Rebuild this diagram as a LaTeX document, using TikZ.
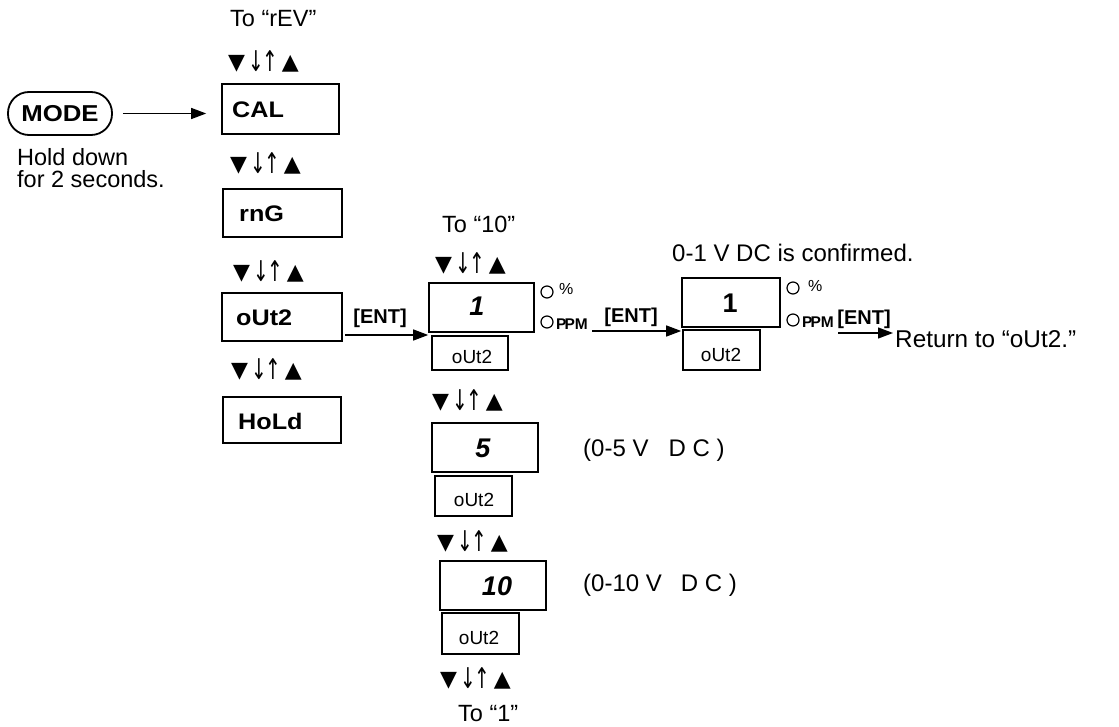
\documentclass[tikz,border=0pt]{standalone}
\usepackage{fontspec}
\usepackage{graphicx}
\setmainfont{Liberation Sans}
\newfontfamily\symfont{DejaVu Sans}
\usetikzlibrary{arrows.meta,calc}
\newcommand\sbf[1]{\scalebox{1.12}[1]{\bfseries #1}}
\newcommand\updn{▼\kern3pt\raisebox{-2pt}{\scalebox{0.85}[1.3]{↓}}\kern-1pt\raisebox{-2pt}{\scalebox{0.85}[1.3]{↑}}\kern3.5pt▲}
\begin{document}
\begin{tikzpicture}[x=1pt,y=-1pt,
  box/.style={draw,line width=1.6pt,inner sep=0pt},
  arr/.style={line width=1.3pt,-{Triangle[length=15pt,width=11pt]}},
  lbl/.style={inner sep=0pt,anchor=west,font=\fontsize{23.5}{22}\selectfont},
  sym/.style={inner sep=0pt,anchor=west,font=\symfont\fontsize{22}{24}\selectfont},
  btxt/.style={inner sep=0pt,anchor=west,font=\fontsize{22.5}{24}\selectfont},
  stxt/.style={inner sep=0pt,font=\fontsize{19}{22}\selectfont},
  dig/.style={inner sep=0pt,font=\fontsize{27}{28}\selectfont\bfseries\itshape},
  ent/.style={inner sep=0pt,font=\fontsize{20}{22}\selectfont\bfseries},
  led/.style={draw,circle,line width=1.2pt,minimum size=12pt,inner sep=0pt},
  pct/.style={inner sep=0pt,anchor=west,font=\fontsize{16}{16}\selectfont},
  ppm/.style={inner sep=0pt,anchor=west,font=\fontsize{15.5}{16}\selectfont\bfseries}]
\useasboundingbox (0,0) rectangle (1119,727);

% left column
\node[lbl] (torev) at (230,18.5) {To “rEV”};
\node[sym] (s0) at (228,61) {\updn};
\node[box,minimum width=117pt,minimum height=50pt] (cal) at (280.5,109) {};
\node[btxt] at (232,110) {\sbf{CAL}};
\node[sym] (s1r) at (230,163) {\updn};
\node[box,minimum width=119pt,minimum height=48pt] (rng) at (282.5,213) {};
\node[btxt] at (239,214) {\sbf{rnG}};
\node[sym] (s2r) at (233,271) {\updn};
\node[box,minimum width=120pt,minimum height=48pt] (out) at (282,317) {};
\node[btxt] at (236,318) {\sbf{oUt2}};
\node[sym] (s3r) at (231,369) {\updn};
\node[box,minimum width=118pt,minimum height=46pt] (hold) at (282,420) {};
\node[btxt] at (238,421) {\sbf{HoLd}};

% MODE
\node[draw,line width=1.8pt,rounded corners=21pt,minimum width=104pt,minimum height=43pt,inner sep=0pt,font=\fontsize{23}{24}\selectfont] (mode) at (60,113.5) {\sbf{MODE}};
\node[lbl,align=left] (hold2) at (17,168) {Hold down\\for 2 seconds.};
\draw[arr] ([xshift=10pt]mode.east) -- ([xshift=-15pt]mode.east -| cal.west);

% middle column
\node[lbl] (to10) at (442,224) {To “10”};
\node[sym] (m0) at (435,263) {\updn};
\node[box,minimum width=105pt,minimum height=49pt] (b1) at (481.5,307.5) {};
\node[dig] at (477,306) {1};
\node[box,minimum width=76pt,minimum height=34pt] (s1) at (470,353) {};
\node[stxt] at (472,357) {oUt2};
\node[led] (c1a) at (547,292) {};
\node[led] (c1b) at (547,322) {};
\node[pct] at (559,289) {\%};
\node[ppm] (p1) at (556,324) {P\kern-2ptPM};

\node[sym] (m1) at (432,400) {\updn};
\node[box,minimum width=106pt,minimum height=49pt] (b5) at (485,447.5) {};
\node[dig] at (483,448) {5};
\node[box,minimum width=77pt,minimum height=40pt] (s5) at (473.5,496) {};
\node[stxt] at (474,500) {oUt2};
\node[lbl,font=\fontsize{24}{24}\selectfont] at (583,450) {(0-5 V\hspace{20pt}D C )};

\node[sym] (m2) at (437,541) {\updn};
\node[box,minimum width=106pt,minimum height=49pt] (b10) at (493,585.5) {};
\node[dig] at (497,586) {10};
\node[box,minimum width=77pt,minimum height=41pt] (s10) at (480.5,633.5) {};
\node[stxt] at (479,638) {oUt2};
\node[lbl,font=\fontsize{24}{24}\selectfont] at (583,585) {(0-10 V\hspace{19pt}D C )};
\node[sym] (m3) at (440,678) {\updn};
\node[lbl] (to1) at (458,714) {To “1”};

% first ENT
\coordinate (e1) at (345,335);
\draw[arr] (e1) -- (b1.west |- e1);
\node[ent] at (380,318) {[ENT]};

% second
\node[lbl,font=\fontsize{24}{24}\selectfont] (conf) at (672,253) {0-1 V DC is confirmed.};
\node[box,minimum width=98pt,minimum height=49pt] (b2) at (731,302.5) {};
\node[inner sep=0pt,font=\fontsize{27}{28}\selectfont\bfseries] at (730,303) {1};
\node[box,minimum width=77pt,minimum height=40pt] (s2) at (721.5,350) {};
\node[stxt] at (721,355) {oUt2};
\coordinate (e2) at (592,331);
\draw[arr] (e2) -- (b2.west |- e2);
\node[ent] at (631,317) {[ENT]};
\node[led] (c2a) at (793,288) {};
\node[led] (c2b) at (793,320) {};
\node[pct] at (808,286) {\%};
\node[ppm] (p2) at (802,322) {P\kern-2ptPM};

% third
\node[lbl,font=\fontsize{24.3}{24}\selectfont] (ret) at (895,339) {Return to “oUt2.”};
\coordinate (e3) at (838,333);
\draw[arr] (e3) -- ([xshift=-2pt]e3 -| ret.west);
\node[ent] at (864,319) {[ENT]};
\end{tikzpicture}
\end{document}
